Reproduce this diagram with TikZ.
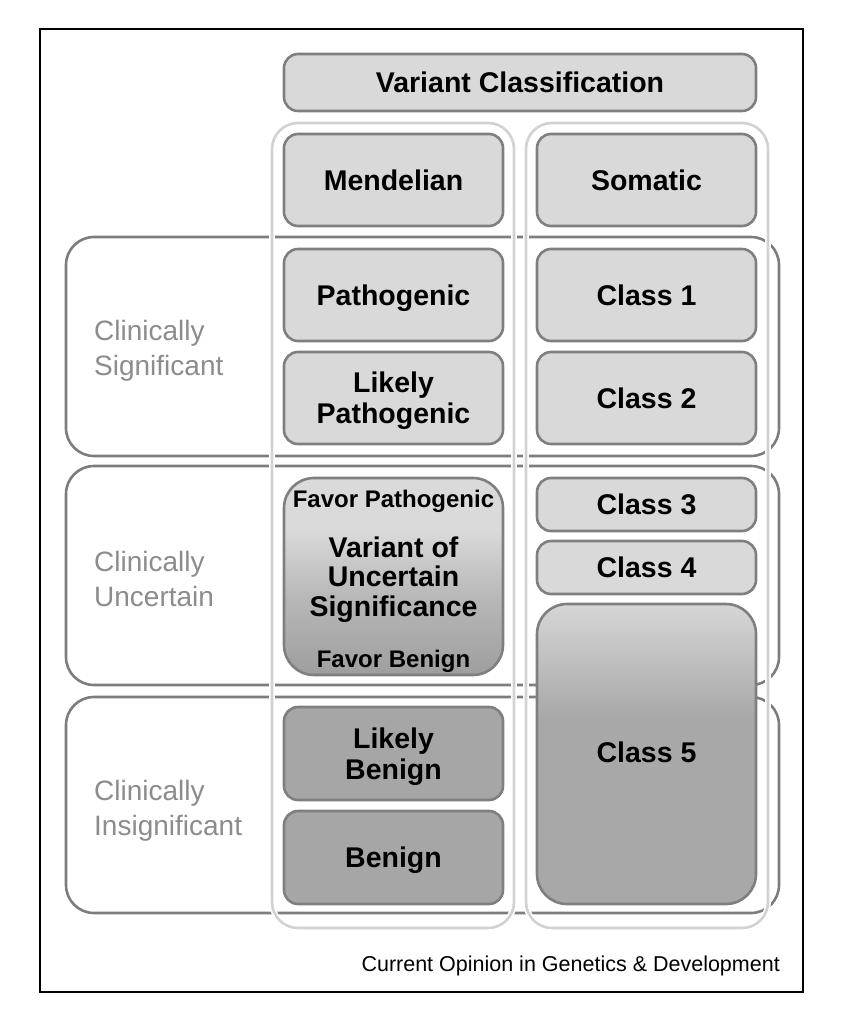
\documentclass[tikz,border=0pt]{standalone}
\usepackage{fontspec}
\setmainfont{Liberation Sans}
\definecolor{boxfill}{HTML}{D9D9D9}
\definecolor{darkfill}{HTML}{A6A6A6}
\definecolor{edge}{HTML}{7F7F7F}
\definecolor{bandedge}{HTML}{7D7D7D}
\definecolor{coledge}{HTML}{D2D2D2}
\definecolor{labelgray}{HTML}{8C8C8C}
\definecolor{vusdark}{HTML}{9E9E9E}
\definecolor{vusmid}{HTML}{B8B8B8}
\definecolor{vuslight}{HTML}{DADADA}
\definecolor{cfdark}{HTML}{A8A8A8}
\definecolor{cflight}{HTML}{D6D6D6}
\pgfdeclareverticalshading{vusshade}{100bp}{color(0bp)=(vusdark); color(25bp)=(vusdark); color(45bp)=(vusmid); color(62bp)=(vuslight); color(75bp)=(vuslight); color(100bp)=(vuslight)}
\pgfdeclareverticalshading{cfshade}{100bp}{color(0bp)=(cfdark); color(25bp)=(cfdark); color(56bp)=(cfdark); color(75bp)=(cflight); color(100bp)=(cflight)}
\begin{document}
\begin{tikzpicture}[x=1pt,y=-1pt,
  box/.style={draw=edge, line width=2.6pt, fill=boxfill, rounded corners=14pt, inner sep=0pt,
    minimum width=219pt, align=center, font=\bfseries\fontsize{28.5}{31}\selectfont, text depth=0pt},
  darkbox/.style={box, fill=darkfill},
  band/.style={draw=bandedge, line width=2.6pt, rounded corners=28pt, inner sep=0pt, minimum width=713pt},
  column/.style={draw=white, double=coledge, double distance=2.6pt, line width=1.6pt,
    rounded corners=26pt, inner sep=0pt, minimum width=242pt, minimum height=805pt},
  bandlabel/.style={anchor=west, inner sep=0pt, align=left, text=labelgray,
    font=\fontsize{28}{35}\selectfont, text depth=0pt},
  vustext/.style={inner sep=0pt, align=center, text depth=0pt},
]
\useasboundingbox (0,0) rectangle (844,1024);
% frame
\node[draw=black, line width=1.3pt, minimum width=763pt, minimum height=963pt, inner sep=0pt] (frame) at (421.5,510.5) {};
% bands
\node[band, minimum height=219pt] (band1) at (422.5,346.5) {};
\node[band, minimum height=219pt] (band2) at (422.5,575.5) {};
\node[band, minimum height=216pt] (band3) at (422.5,805) {};
% columns
\node[column] (mendcol) at (393,525.5) {};
\node[column] (somcol) at (647,525.5) {};
% boxes
\node[box, minimum width=472pt, minimum height=57pt] (vc) at (520,82.5) {Variant Classification};
\node[box, minimum height=92pt] (mend) at (393.5,180) {Mendelian};
\node[box, minimum height=92pt] (som) at (646.5,180) {Somatic};
\node[box, minimum height=92pt] (path) at (393.5,295) {Pathogenic};
\node[box, minimum height=92pt] (lpath) at (393.5,398) {Likely\\Pathogenic};
\node[box, minimum height=92pt] (c1) at (646.5,295) {Class 1};
\node[box, minimum height=92pt] (c2) at (646.5,398) {Class 2};
\node[box, shade, shading=vusshade, rounded corners=30pt, minimum height=197pt] (vus) at (393.5,576.5) {};
\node[vustext, font=\bfseries\fontsize{24}{29}\selectfont] (favp) at (393.5,499) {Favor Pathogenic};
\node[vustext, font=\bfseries\fontsize{28.5}{29.5}\selectfont] (vustxt) at (393.5,576.5) {Variant of\\Uncertain\\Significance};
\node[vustext, font=\bfseries\fontsize{24}{29}\selectfont] (favb) at (393.5,659) {Favor Benign};
\node[box, minimum height=53pt] (c3) at (646.5,504.5) {Class 3};
\node[box, minimum height=53pt] (c4) at (646.5,567.5) {Class 4};
\node[box, shade, shading=cfshade, rounded corners=30pt, minimum height=300pt] (c5) at (646.5,754) {};
\node[vustext, font=\bfseries\fontsize{28.5}{31}\selectfont] (c5txt) at (646.5,752) {Class 5};
\node[darkbox, minimum height=93pt] (lben) at (393.5,753.5) {Likely\\Benign};
\node[darkbox, minimum height=93pt] (ben) at (393.5,857.5) {Benign};
% band labels
\node[bandlabel] (lsig) at (94,348) {Clinically\\Significant};
\node[bandlabel] (lunc) at (94,579) {Clinically\\Uncertain};
\node[bandlabel] (lins) at (94,808) {Clinically\\Insignificant};
% caption
\node[anchor=base east, inner sep=0pt, font=\fontsize{21.5}{25}\selectfont] (cap) at (780,971) {Current Opinion in Genetics \& Development};
\end{tikzpicture}
\end{document}
